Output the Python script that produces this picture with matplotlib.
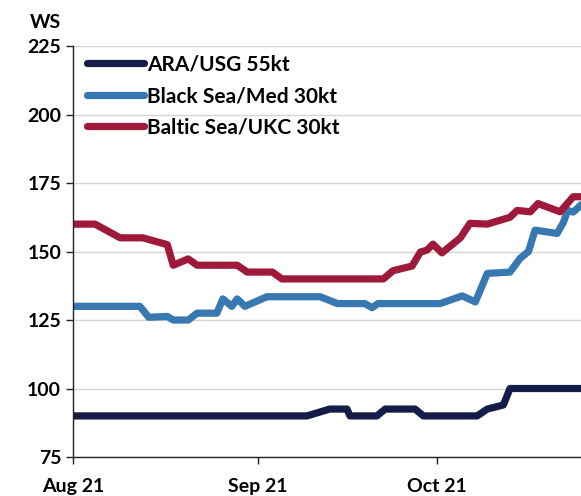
import numpy as np
import pandas as pd
import matplotlib
matplotlib.use('Agg')
import matplotlib.pyplot as plt
import matplotlib.dates as mdates

plt.rcParams['font.family'] = ['Lato', 'DejaVu Sans']

# days since 1 Aug 2021, WS values
ara_days = [0, 39.2, 43, 45.9, 46.4, 50.9, 52.3, 57.3, 58.7, 67.7, 69.4, 72.1, 73.2, 86]
ara_ws = [90, 90, 92.5, 92.5, 90, 90, 92.5, 92.5, 90, 90, 92.5, 94, 100, 100]

bsm_days = [0, 11.2, 12.7, 15.8, 16.8, 19.3, 20.8, 24.1, 25.1, 26.6, 27.5, 28.8, 32.5,
            41.4, 44.3, 48.9, 50.1, 51.1, 61.5, 65.2, 67.4, 69.4, 73.2, 74.9, 76.3,
            77.4, 81.1, 82.1, 82.9, 83.8, 85.1, 86]
bsm_ws = [130, 130, 126, 126.3, 125, 125, 127.5, 127.5, 132.7, 130, 132.7, 130, 133.5,
          133.5, 131, 131, 129.5, 131, 131, 133.8, 131.6, 142, 142.5, 147.5, 150,
          157.8, 156.6, 160.4, 165, 164.4, 167, 168]

bal_days = [0, 3.7, 7.9, 11.7, 15.8, 16.8, 19.3, 20.8, 27.5, 29.2, 33.4, 35, 52, 53.6,
            56.8, 58.2, 59.3, 60.3, 61.8, 64.9, 66.5, 69.4, 73.2, 74.4, 76.6, 77.9,
            81.6, 83.8, 86]
bal_ws = [160, 160, 155, 155, 152.5, 145, 147.3, 145, 145, 142.5, 142.5, 140, 140, 143,
          144.7, 149.8, 150.5, 152.7, 149.5, 155, 160.3, 160, 162.5, 165, 164.5, 167.5,
          164.5, 170, 170]

labels = ['ARA/USG 55kt', 'Black Sea/Med 30kt', 'Baltic Sea/UKC 30kt']
colors = ['#141d47', '#3878b1', '#9f1a3a']

start = pd.Timestamp('2021-08-01')
def to_dates(days):
    return [start + pd.Timedelta(days=d) for d in days]

fig = plt.figure(figsize=(5.81, 4.96), dpi=100)
ax = fig.add_axes([0.1256, 0.0786, 0.8744, 0.8286])

series = [(ara_days, ara_ws), (bsm_days, bsm_ws), (bal_days, bal_ws)]
for (d, v), lab, c in zip(series, labels, colors):
    ax.plot(to_dates(d), v, color=c, lw=5.2, label=lab,
            solid_joinstyle='round', solid_capstyle='round')

ax.set_ylim(75, 225)
ax.set_yticks([75, 100, 125, 150, 175, 200, 225])
ax.set_xlim(start, start + pd.Timedelta(days=85.1))
ax.set_xticks(pd.to_datetime(['2021-08-01', '2021-09-01', '2021-10-01']))
ax.xaxis.set_major_formatter(mdates.DateFormatter('%b %y'))

ax.grid(axis='y', color='#d4d4d4', lw=1)
ax.set_axisbelow(True)
for s in ['top', 'right']:
    ax.spines[s].set_visible(False)
for s in ['left', 'bottom']:
    ax.spines[s].set_color('#222222')
    ax.spines[s].set_linewidth(1)
ax.tick_params(axis='both', labelsize=14, length=5, color='#222222', width=1)
ax.tick_params(axis='x', pad=10)
for t in ax.get_xticklabels() + ax.get_yticklabels():
    t.set_fontweight('bold')

fig.text(0.052, 0.955, 'WS', fontsize=14, fontweight='bold', va='center')

leg = ax.legend(loc='upper left', bbox_to_anchor=(0.0, 1.012), frameon=False,
                prop={'size': 15, 'weight': 'bold'}, handlelength=2.75,
                handletextpad=0.15, labelspacing=0.55, borderaxespad=0.25)

fig.savefig('out.png', dpi=100)
